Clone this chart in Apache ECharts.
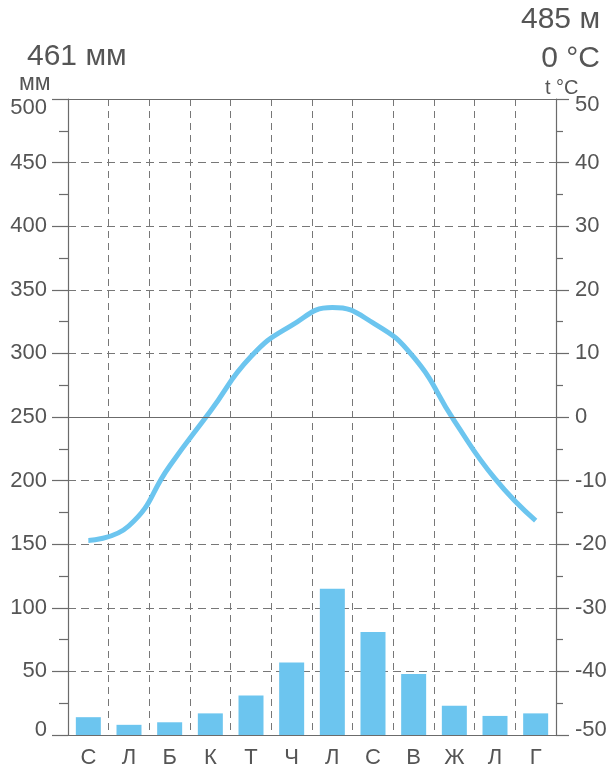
<!DOCTYPE html>
<html>
<head>
<meta charset="utf-8">
<script src="https://cdn.jsdelivr.net/npm/echarts@6/dist/echarts.min.js"></script>
<style>html,body{margin:0;padding:0;background:#fff;}#c{width:613px;height:773px;}</style>
</head>
<body>
<div id="c"></div>
<script>
var months = ['С','Л','Б','К','Т','Ч','Л','С','В','Ж','Л','Г'];
var precipitation = [14, 8, 10, 17, 31, 57, 115, 81, 48, 23, 15, 17];
var temperature = [-19.4, -17.1, -7.7, 0.9, 9.5, 14.4, 17.2, 14.8, 9.4, -0.6, -9.7, -16.3];
var precipTicks = {min: 0, max: 500, interval: 50};
var tempTicks = {min: -50, max: 50, interval: 10};
var annualPrecip = '461 мм';
var altitude = '485 м';
var annualTemp = '0 °C';

var FONT = 'Liberation Sans';
var GRAY = '#555';
var LINE = '#6b6b6b';
var BLUE = '#6cc5ef';

function labelRich(topPad, botPad) {
  return {
    hi: {fontSize: 22, color: GRAY, fontFamily: FONT, padding: [topPad, 0, 0, 0]},
    lo: {fontSize: 22, color: GRAY, fontFamily: FONT, padding: [0, 0, botPad, 0]}
  };
}
function edgeFormatter(minV, maxV) {
  return function (v) {
    if (v === maxV) return '{hi|' + v + '}';
    if (v === minV) return '{lo|' + v + '}';
    return String(v);
  };
}

var chart = echarts.init(document.getElementById('c'), null, {renderer: 'canvas'});
chart.setOption({
  animation: false,
  backgroundColor: '#fff',
  textStyle: {fontFamily: FONT},
  grid: {left: 68, right: 57, top: 99, bottom: 38},
  graphic: [
    {type: 'text', left: 27, top: 42, style: {text: annualPrecip, font: '30px "Liberation Sans"', fill: GRAY}},
    {type: 'text', right: 13, top: 5, style: {text: altitude, font: '30px "Liberation Sans"', fill: GRAY}},
    {type: 'text', right: 13, top: 44, style: {text: annualTemp, font: '30px "Liberation Sans"', fill: GRAY}},
    {type: 'text', left: 19, top: 72, style: {text: 'мм', font: '23px "Liberation Sans"', fill: GRAY}},
    {type: 'text', left: 545, top: 78, style: {text: 't °C', font: '20px "Liberation Sans"', fill: GRAY}}
  ],
  xAxis: {
    type: 'category',
    data: months,
    boundaryGap: true,
    axisLine: {show: true, lineStyle: {color: LINE, width: 1.2}},
    axisTick: {show: false},
    axisLabel: {fontSize: 22, color: GRAY, margin: 12, fontFamily: FONT},
    splitLine: {show: true, lineStyle: {type: [7, 5], color: '#777', width: 1}}
  },
  yAxis: [
    {
      type: 'value',
      min: precipTicks.min, max: precipTicks.max, interval: precipTicks.interval,
      position: 'left',
      axisLine: {show: true, lineStyle: {color: LINE, width: 1.2}},
      axisTick: {show: true, inside: false, length: 16, lineStyle: {color: LINE, width: 1.2}},
      minorTick: {show: true, splitNumber: 2, length: 9, lineStyle: {color: LINE, width: 1.2}},
      axisLabel: {fontSize: 22, color: GRAY, margin: 21, fontFamily: FONT,
        formatter: edgeFormatter(precipTicks.min, precipTicks.max), rich: labelRich(18, 10)},
      splitLine: {show: true, lineStyle: {type: [8, 5], color: '#777', width: 1}}
    },
    {
      type: 'value',
      min: tempTicks.min, max: tempTicks.max, interval: tempTicks.interval,
      position: 'right',
      axisLine: {show: true, lineStyle: {color: LINE, width: 1.2}},
      axisTick: {show: true, inside: false, length: 13, lineStyle: {color: LINE, width: 1.2}},
      minorTick: {show: true, splitNumber: 2, length: 7, lineStyle: {color: LINE, width: 1.2}},
      axisLabel: {fontSize: 22, color: GRAY, margin: 19, fontFamily: FONT,
        formatter: edgeFormatter(tempTicks.min, tempTicks.max), rich: labelRich(12, 10)},
      splitLine: {show: false}
    }
  ],
  series: [
    {
      type: 'bar',
      data: precipitation,
      yAxisIndex: 0,
      barWidth: 25,
      itemStyle: {color: BLUE},
      markLine: {
        silent: true,
        symbol: ['none', 'none'],
        label: {show: false},
        lineStyle: {type: 'solid', color: LINE, width: 1.2},
        data: [{yAxis: 250}, {yAxis: 500}]
      }
    },
    {
      type: 'line',
      data: temperature,
      yAxisIndex: 1,
      smooth: true,
      symbol: 'none',
      lineStyle: {color: BLUE, width: 5},
      z: 3
    }
  ]
});
</script>
</body>
</html>
